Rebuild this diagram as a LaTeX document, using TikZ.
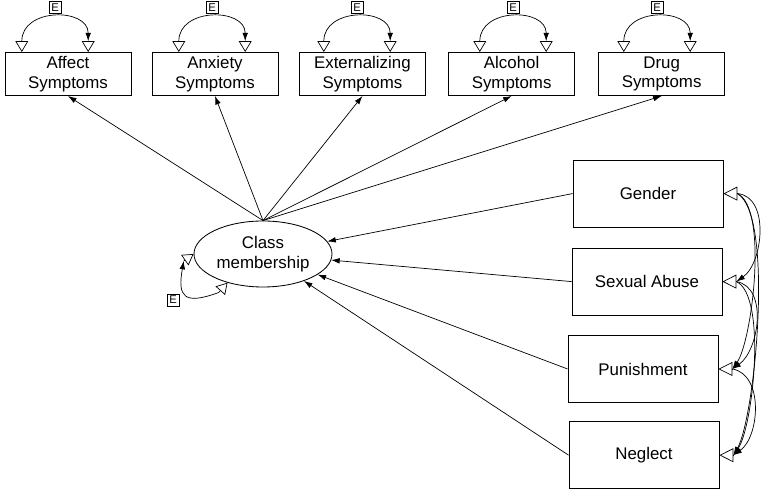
\documentclass[tikz,border=0pt]{standalone}
\usepackage{fontspec}
\setmainfont{Liberation Sans}
\usepackage{tikz}
\usetikzlibrary{shapes.geometric}
\usetikzlibrary{arrows.meta}

\begin{document}
\begin{tikzpicture}[
  varbox/.style={draw,line width=0.6pt,align=center,font=\fontsize{12}{14}\selectfont,minimum width=3.15cm,minimum height=1.08cm,inner sep=1pt},
  covbox/.style={varbox,minimum width=3.75cm,minimum height=1.68cm},
  latent/.style={draw,ellipse,line width=0.6pt,align=center,font=\fontsize{12}{14}\selectfont,minimum width=3.45cm,minimum height=1.65cm,inner sep=0pt},
  errlbl/.style={draw,line width=0.5pt,font=\fontsize{8}{9}\selectfont,minimum size=0.3cm,inner sep=0pt},
  regarrow/.style={-{Latex[length=6pt,width=4pt]},line width=0.5pt},
  resid/.style={-{Triangle[open,length=0.27cm,width=0.32cm]},line width=0.5pt},
  residb/.style={-{Triangle[open,length=0.35cm,width=0.35cm]},line width=0.5pt}]
\useasboundingbox (0,0) rectangle (19.05,12.25);

% outcome boxes
\node[varbox] (affect) at (1.70,10.4) {Affect\\Symptoms};
\node[varbox] (anxiety) at (5.375,10.4) {Anxiety\\Symptoms};
\node[varbox] (extern) at (9.06,10.4) {Externalizing\\Symptoms};
\node[varbox] (alcohol) at (12.79,10.4) {Alcohol\\Symptoms};
\node[varbox] (drug) at (16.54,10.4) {Drug\\Symptoms};

% error loops
\coordinate (affL) at (0.545,11.22); \coordinate (affR) at (2.205,11.22);
\draw[resid] (affL) -- (affL |- affect.north);
\draw[resid] (affR) -- (affR |- affect.north);
\draw[regarrow] (affL) to[out=90,in=90,looseness=1.3] (affR);
\node[errlbl] (eAff) at (1.375,12.07) {E};

\coordinate (anxL) at (4.47,11.22); \coordinate (anxR) at (6.13,11.22);
\draw[resid] (anxL) -- (anxL |- anxiety.north);
\draw[resid] (anxR) -- (anxR |- anxiety.north);
\draw[regarrow] (anxL) to[out=90,in=90,looseness=1.3] (anxR);
\node[errlbl] (eAnx) at (5.3,12.07) {E};

\coordinate (extL) at (8.095,11.22); \coordinate (extR) at (9.755,11.22);
\draw[resid] (extL) -- (extL |- extern.north);
\draw[resid] (extR) -- (extR |- extern.north);
\draw[regarrow] (extL) to[out=90,in=90,looseness=1.3] (extR);
\node[errlbl] (eExt) at (8.925,12.07) {E};

\coordinate (alcL) at (11.995,11.22); \coordinate (alcR) at (13.655,11.22);
\draw[resid] (alcL) -- (alcL |- alcohol.north);
\draw[resid] (alcR) -- (alcR |- alcohol.north);
\draw[regarrow] (alcL) to[out=90,in=90,looseness=1.3] (alcR);
\node[errlbl] (eAlc) at (12.825,12.07) {E};

\coordinate (drgL) at (15.595,11.22); \coordinate (drgR) at (17.255,11.22);
\draw[resid] (drgL) -- (drgL |- drug.north);
\draw[resid] (drgR) -- (drgR |- drug.north);
\draw[regarrow] (drgL) to[out=90,in=90,looseness=1.3] (drgR);
\node[errlbl] (eDrg) at (16.425,12.07) {E};

% latent class
\node[latent] (cm) at (6.575,5.9) {Class\\membership};
\draw[regarrow] (cm.north) -- (affect.south);
\draw[regarrow] (cm.north) -- (anxiety.south);
\draw[regarrow] (cm.north) -- (extern.south);
\draw[regarrow] (cm.north) -- (alcohol.south);
\draw[regarrow] (cm.north) -- (drug.south);

\path (cm.219) ++(228:0.33) coordinate (cmB);
\path (cm.180) ++(215:0.3) coordinate (cmL);
\draw[resid] (cmB) -- (cm.219);
\draw[resid] (cmL) -- (cm.180);
\draw[regarrow] (cmB) to[out=200,in=260,looseness=2] (cmL);
\node[errlbl] (eCm) at (4.325,4.75) {E};

% covariates
\node[covbox] (gender) at (16.2,7.41) {Gender};
\node[covbox] (sexab) at (16.175,5.21) {Sexual Abuse};
\node[covbox] (punish) at (16.075,3.025) {Punishment};
\node[covbox] (neglect) at (16.1,0.87) {Neglect};
\draw[regarrow] (gender.west) -- (cm);
\draw[regarrow] (sexab.west) -- (cm);
\draw[regarrow] (punish.west) -- (cm);
\draw[regarrow] (neglect.west) -- (cm);

\path (gender.east) ++(0.35,0) coordinate (genT);
\path (sexab.east) ++(0.35,0) coordinate (sexT);
\path (punish.east) ++(0.35,0) coordinate (punT);
\path (neglect.east) ++(0.35,0) coordinate (negT);
\draw[residb] (genT) -- (gender.east);
\draw[residb] (sexT) -- (sexab.east);
\draw[residb] (punT) -- (punish.east);
\draw[residb] (negT) -- (neglect.east);

% covariances
\draw[regarrow] (genT) to[out=-5,in=35,looseness=0.95] (sexT);
\draw[regarrow] (sexT) to[out=-10,in=35,looseness=0.95] (punT);
\draw[regarrow] (punT) to[out=-10,in=35,looseness=0.95] (negT);
\draw[regarrow] (genT) to[out=-25,in=55,looseness=0.5] (punT);
\draw[regarrow] (sexT) to[out=-25,in=55,looseness=0.5] (negT);
\draw[regarrow] (genT) to[out=-30,in=60,looseness=0.42] (negT);

\end{tikzpicture}
\end{document}
